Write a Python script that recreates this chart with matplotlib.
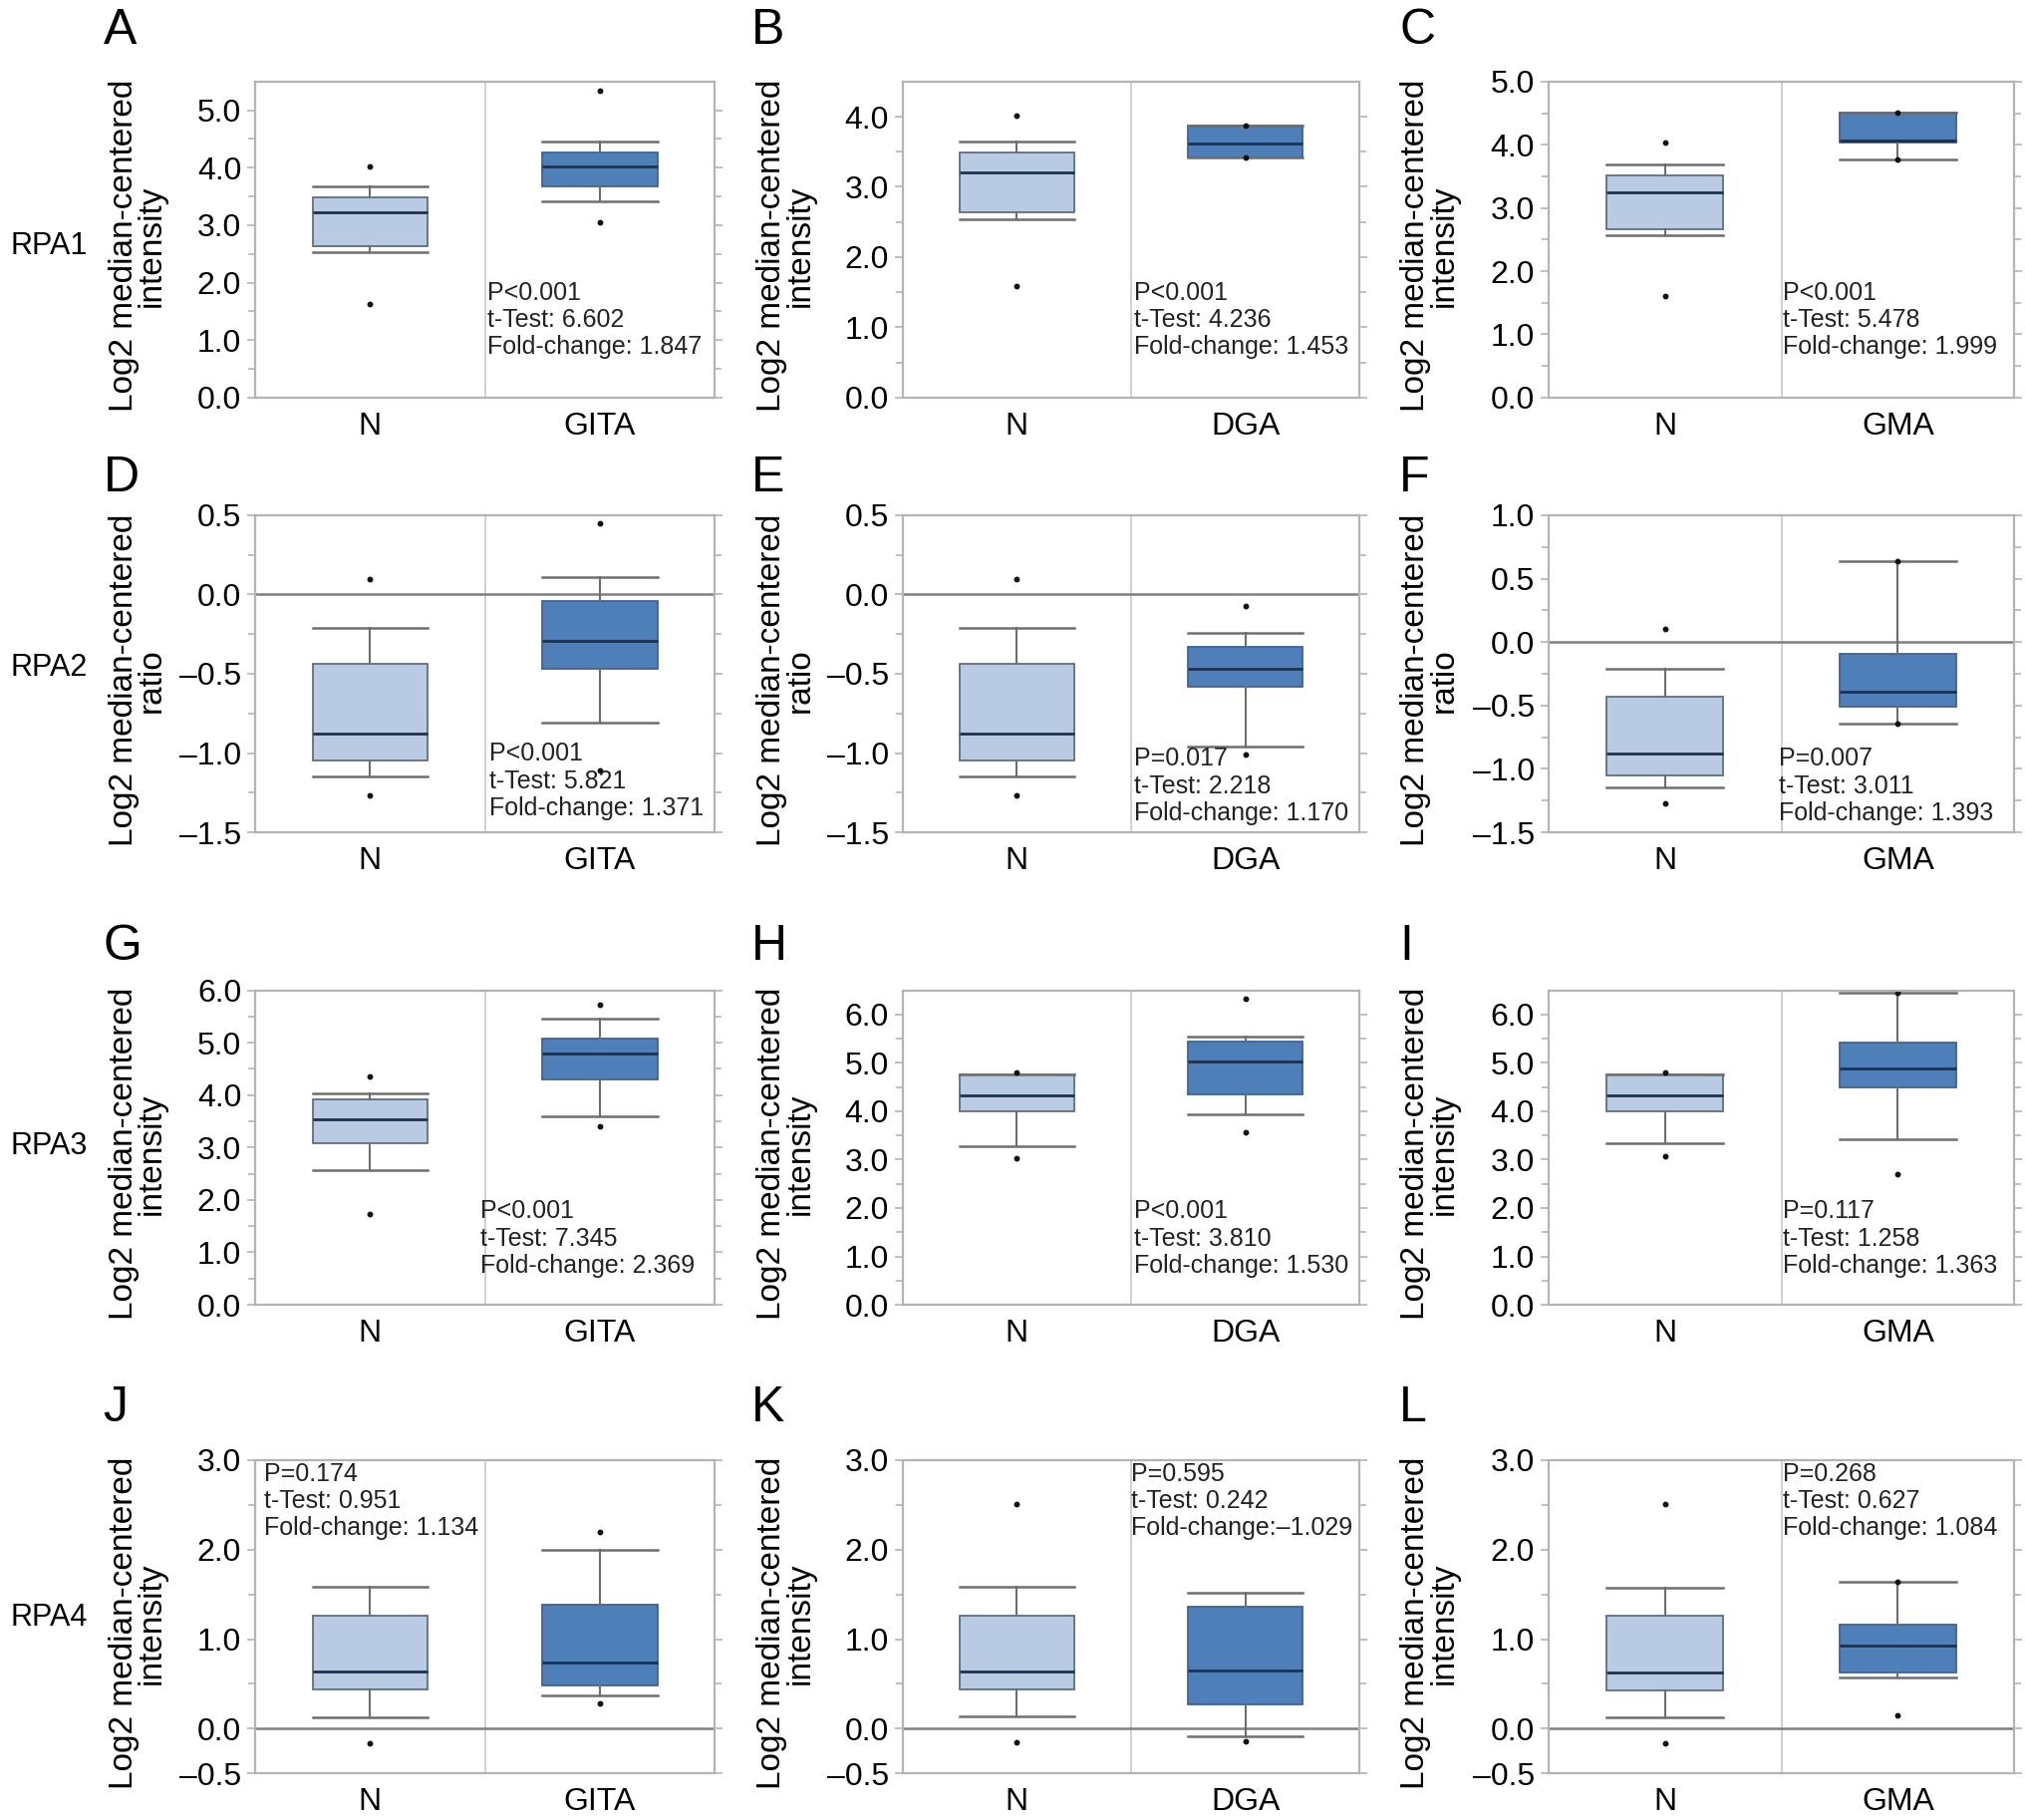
import math
import matplotlib
matplotlib.use("Agg")
import matplotlib.pyplot as plt
from matplotlib.ticker import FixedLocator, FuncFormatter

plt.rcParams['font.family'] = ['Liberation Sans', 'DejaVu Sans']

# ---- data ----
panel_letters = list("ABCDEFGHIJKL")
genes = ["RPA1", "RPA2", "RPA3", "RPA4"]
tumors = ["GITA", "DGA", "GMA"]
row_units = ["intensity", "ratio", "intensity", "intensity"]

ylims = [(0, 5.5), (0, 4.5), (0, 5.0),
         (-1.5, 0.5), (-1.5, 0.5), (-1.5, 1.0),
         (0, 6.0), (0, 6.5), (0, 6.5),
         (-0.5, 3.0), (-0.5, 3.0), (-0.5, 3.0)]
tick_steps = [1.0, 1.0, 1.0, 0.5, 0.5, 0.5, 1.0, 1.0, 1.0, 1.0, 1.0, 1.0]

# normal tissue boxes: low whisker, q1, median, q3, high whisker, dots
n_low = [2.53, 2.54, 2.57, -1.15, -1.15, -1.15, 2.56, 3.28, 3.33, 0.13, 0.14, 0.13]
n_q1 = [2.63, 2.64, 2.66, -1.05, -1.05, -1.05, 3.08, 3.99, 4.00, 0.44, 0.44, 0.43]
n_med = [3.22, 3.21, 3.24, -0.88, -0.88, -0.88, 3.53, 4.33, 4.32, 0.64, 0.64, 0.63]
n_q3 = [3.49, 3.49, 3.52, -0.44, -0.44, -0.43, 3.92, 4.76, 4.77, 1.26, 1.26, 1.26]
n_high = [3.67, 3.64, 3.68, -0.21, -0.21, -0.21, 4.03, 4.76, 4.77, 1.58, 1.58, 1.57]
n_dots = [[4.03, 1.62], [4.02, 1.59], [4.03, 1.61],
          [0.10, -1.27], [0.10, -1.27], [0.10, -1.27],
          [4.36, 1.73], [4.80, 3.03], [4.80, 3.07],
          [-0.16], [2.51, -0.15], [2.51, -0.16]]

# tumour boxes
t_low = [3.41, 3.42, 3.77, -0.81, -0.96, -0.645, 3.60, 3.94, 3.42, 0.37, -0.08, 0.57]
t_q1 = [3.67, 3.42, 4.04, -0.47, -0.58, -0.51, 4.30, 4.34, 4.50, 0.48, 0.27, 0.63]
t_med = [4.02, 3.62, 4.06, -0.29, -0.47, -0.39, 4.80, 5.02, 4.88, 0.74, 0.65, 0.93]
t_q3 = [4.27, 3.87, 4.51, -0.04, -0.33, -0.09, 5.07, 5.44, 5.42, 1.39, 1.36, 1.16]
t_high = [4.45, 3.87, 4.51, 0.11, -0.24, 0.64, 5.45, 5.54, 6.44, 2.00, 1.52, 1.64]
t_dots = [[5.34, 3.05], [3.87, 3.42], [4.51, 3.77],
          [0.45, -1.11], [-0.07, -1.01], [0.64, -0.645],
          [5.73, 3.40], [6.32, 3.56], [6.44, 2.69],
          [2.20, 0.28], [-0.14], [1.64, 0.15]]

p_text = ["P<0.001", "P<0.001", "P<0.001", "P<0.001", "P=0.017", "P=0.007",
          "P<0.001", "P<0.001", "P=0.117", "P=0.174", "P=0.595", "P=0.268"]
t_text = ["6.602", "4.236", "5.478", "5.821", "2.218", "3.011",
          "7.345", "3.810", "1.258", "0.951", "0.242", "0.627"]
fc_text = [" 1.847", " 1.453", " 1.999", " 1.371", " 1.170", " 1.393",
           " 2.369", " 1.530", " 1.363", " 1.134", "\u20131.029", " 1.084"]

# ---- layout ----
col_left = [0.126, 0.4457, 0.7647]
col_width = [0.227, 0.2257, 0.230]
row_bottom = [0.7816, 0.5427, 0.2831, 0.0256]
row_height = [0.1736, 0.1742, 0.1728, 0.1721]
letter_x = [0.051, 0.371, 0.691]
letter_y = [0.983, 0.737, 0.480, 0.226]
gene_y = [0.865, 0.633, 0.370, 0.111]
# stats text anchor (axes fraction, top of first line)
txt_pos = [(0.504, 0.37), (0.507, 0.37), (0.503, 0.37),
           (0.51, 0.285), (0.506, 0.27), (0.495, 0.27),
           (0.49, 0.335), (0.507, 0.335), (0.503, 0.335),
           (0.02, 0.995), (0.50, 0.995), (0.503, 0.995)]

N_FILL = "#b9cbe2"
T_FILL = "#4f7fb8"
GRID = "#b4b4b4"


def fmt(v, pos):
    return f"{v:.1f}".replace("-", "\u2013")


fig = plt.figure(figsize=(20.32, 18.26), dpi=100)

for i in range(12):
    r, c = divmod(i, 3)
    ax = fig.add_axes([col_left[c], row_bottom[r], col_width[c], row_height[r]])

    stats = [
        dict(whislo=n_low[i], q1=n_q1[i], med=n_med[i], q3=n_q3[i],
             whishi=n_high[i], fliers=n_dots[i]),
        dict(whislo=t_low[i], q1=t_q1[i], med=t_med[i], q3=t_q3[i],
             whishi=t_high[i], fliers=t_dots[i]),
    ]
    bp = ax.bxp(stats, positions=[1, 2], widths=0.5, capwidths=0.5,
                patch_artist=True, showfliers=True,
                boxprops=dict(linewidth=1.3, edgecolor="#5f6f82"),
                medianprops=dict(color="#1b3250", linewidth=2.0),
                whiskerprops=dict(color="#6e6e6e", linewidth=1.5),
                capprops=dict(color="#6e6e6e", linewidth=1.8),
                flierprops=dict(marker="o", markersize=3.2, markerfacecolor="#111111",
                                markeredgecolor="#111111"))
    bp["boxes"][0].set_facecolor(N_FILL)
    bp["boxes"][1].set_facecolor(T_FILL)
    bp["boxes"][1].set_edgecolor("#3e6592")

    lo, hi = ylims[i]
    ax.set_xlim(0.5, 2.5)
    ax.set_ylim(lo, hi)
    ax.axvline(1.5, color="#c8c8c8", lw=1.2, zorder=0)
    ax.axhline(0, color="#7f7f7f", lw=1.8, zorder=1)

    step = tick_steps[i]
    k0 = math.ceil(lo / step - 1e-9)
    k1 = math.floor(hi / step + 1e-9)
    majors = [round(k * step, 2) for k in range(k0, k1 + 1)]
    if abs(majors[0] - lo) > 1e-9:
        majors.insert(0, lo)
    minors = [round((k + 0.5) * step, 2) for k in range(k0, k1 + 1)
              if lo < (k + 0.5) * step < hi]
    ax.yaxis.set_major_locator(FixedLocator(majors))
    ax.yaxis.set_minor_locator(FixedLocator(minors))
    ax.yaxis.set_major_formatter(FuncFormatter(fmt))
    ax.tick_params(axis="y", which="both", left=True, right=True, direction="out",
                   color=GRID, width=1.2, labelsize=23, pad=4)
    ax.tick_params(axis="y", which="major", length=6)
    ax.tick_params(axis="y", which="minor", length=5)

    ax.set_xticks([1, 2])
    ax.set_xticklabels(["N", tumors[c]])
    ax.tick_params(axis="x", length=0, labelsize=23, pad=10)

    for sp in ax.spines.values():
        sp.set_color(GRID)
        sp.set_linewidth(1.6)

    ax.text(-0.255, 0.48, "Log2 median-centered\n" + row_units[r],
            transform=ax.transAxes, rotation=90, ha="center", va="center",
            fontsize=24, linespacing=0.9, multialignment="center")

    tx, ty = txt_pos[i]
    ax.text(tx, ty, f"{p_text[i]}\nt-Test: {t_text[i]}\nFold-change:{fc_text[i]}",
            transform=ax.transAxes, ha="left", va="top", fontsize=18,
            linespacing=1.18, color="#222222")

    fig.text(letter_x[c], letter_y[r], panel_letters[i], fontsize=36,
             ha="left", va="center")

for r in range(4):
    fig.text(0.005, gene_y[r], genes[r], fontsize=22, ha="left", va="center")

fig.savefig("out.png", dpi=100, facecolor="white")
